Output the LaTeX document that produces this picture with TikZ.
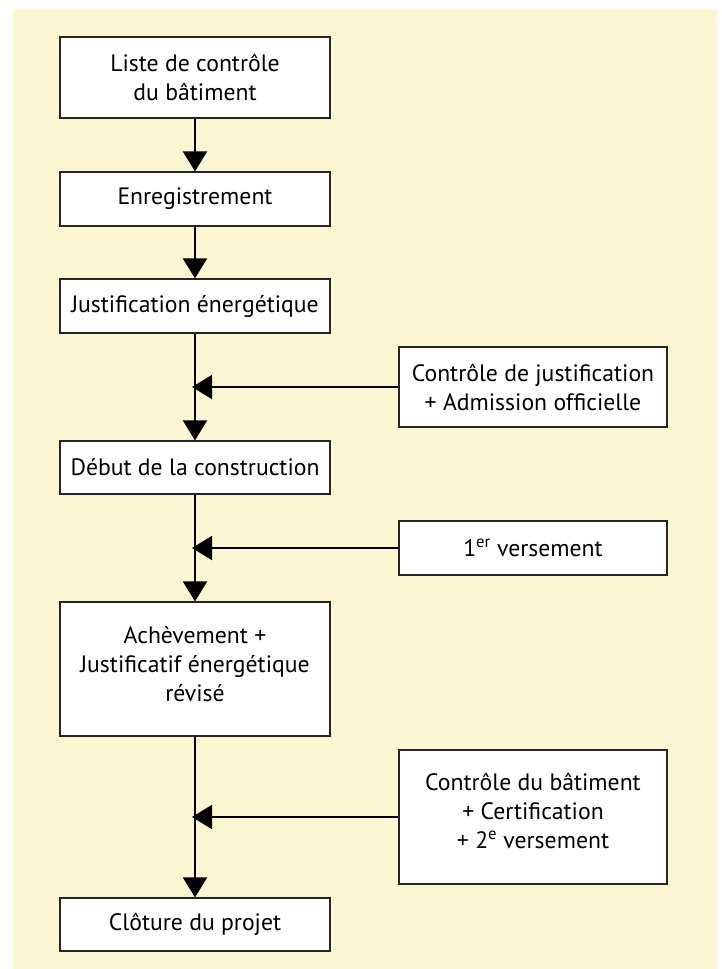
\documentclass[tikz,border=0pt]{standalone}
\usepackage{fontspec}
\setmainfont{PT Sans}
\usetikzlibrary{arrows.meta}
\definecolor{fond}{RGB}{250,246,210}

\begin{document}
\begin{tikzpicture}[x=1pt,y=-1pt,>={Triangle[width=24pt,length=20pt]},
	boite/.style={draw=black!85, line width=1.2pt, fill=white, align=center, inner sep=0pt, font=\fontsize{23.7}{29}\selectfont},
	gauche/.style={boite, minimum width=270pt},
	droite/.style={boite, minimum width=268pt},
	fleche/.style={->, line width=2pt}]
		% fond
		\useasboundingbox (0,0) rectangle (722,969);
		\fill[fond] (13,9) rectangle (717,969);
		% colonne principale
		\node[gauche, minimum height=81pt] (liste) at (195,77.5) {Liste de contrôle\\du bâtiment};
		\node[gauche, minimum height=54pt] (enreg) at (195,199) {Enregistrement};
		\node[gauche, minimum height=54pt] (justif) at (195,306) {Justification énergétique};
		\node[gauche, minimum height=53pt] (debut) at (195,467.5) {Début de la construction};
		\node[gauche, minimum height=134pt] (achev) at (195,669) {Achèvement +\\Justificatif énergétique\\révisé\\[-18pt]\mbox{}};
		\node[gauche, minimum height=53pt] (cloture) at (195,924.5) {Clôture du projet};
		% colonne de droite
		\node[droite, minimum height=80pt] (controle) at (533,387) {Contrôle de justification\\+ Admission officielle};
		\node[droite, minimum height=54pt] (verse) at (533,548) {1\textsuperscript{er} versement};
		\node[droite, minimum height=134pt] (certif) at (533,817) {Contrôle du bâtiment\\+ Certification\\+ 2\textsuperscript{e} versement\\[-17pt]\mbox{}};
		% points d'arrivee
		\coordinate (p1) at (justif.south |- controle.west);
		\coordinate (p2) at (debut.south |- verse.west);
		\coordinate (p3) at (achev.south |- certif.west);
		% fleches verticales
		\draw[fleche] (liste) -- (enreg);
		\draw[fleche] (enreg) -- (justif);
		\draw[fleche] (justif) -- (debut);
		\draw[fleche] (debut) -- (achev);
		\draw[fleche] (achev) -- (cloture);
		% fleches horizontales
		\draw[fleche, shorten >=-3pt] (controle.west) -- (p1);
		\draw[fleche, shorten >=-3pt] (verse.west) -- (p2);
		\draw[fleche, shorten >=-3pt] (certif.west) -- (p3);
		\end{tikzpicture}
\end{document}
